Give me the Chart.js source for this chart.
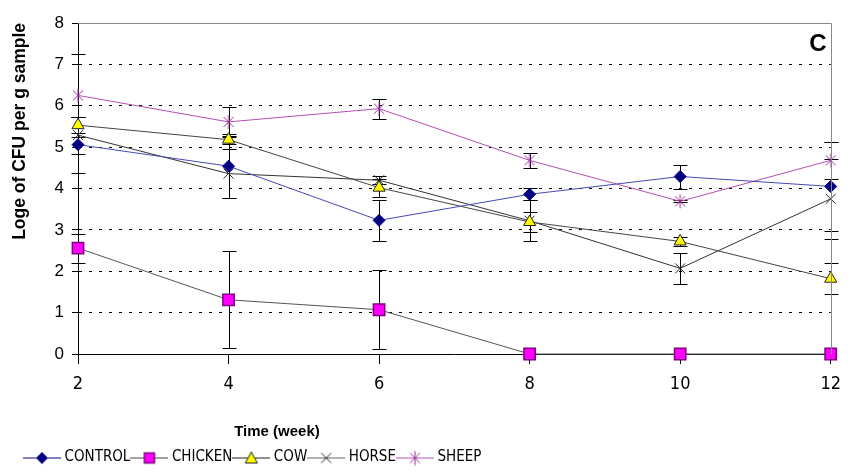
<!DOCTYPE html>
<html>
<head>
<meta charset="utf-8">
<script src="https://cdn.jsdelivr.net/npm/chart.js@4.4.1/dist/chart.umd.min.js"></script>
<style>
  html, body { margin: 0; padding: 0; background: #fff; }
  #wrap { width: 851px; height: 472px; position: relative; }
</style>
</head>
<body>
<div id="wrap"><canvas id="mainChart"></canvas></div>
<script>
// ---- data ----
const weeks = ['2', '4', '6', '8', '10', '12'];
const control    = [5.06, 4.54, 3.23, 3.86, 4.29, 4.05];
const controlErr = [0.68, 0.78, 0.50, 0.15, 0.29, 1.08];
const chicken    = [2.56, 1.31, 1.07, 0, 0, 0];
const chickenErr = [0.35, 1.17, 0.95, 0, 0, 0];
const cow        = [5.53, 5.18, 4.02, 3.19, 2.72, 1.82];
const cowErr     = [0.20, 0.10, 0.22, 0.24, 0.10, 0.38];
const horse      = [5.29, 4.36, 4.20, 3.22, 2.07, 3.75];
const horseErr   = [0.45, 0.60, 0.10, 0.50, 0.37, 0.97];
const sheep      = [6.25, 5.61, 5.93, 4.68, 3.69, 4.68];
const sheepErr   = [1.00, 0.36, 0.24, 0.18, 0.02, 0.45];
const yMin = 0, yMax = 8, yStep = 1;

const NARROW = '"DejaVu Sans Condensed", "Liberation Sans", Arial, sans-serif';
const SANS = '"Liberation Sans", Arial, sans-serif';

// ---- marker drawing for legend icons / sheep point ----
function markDiamond(g, x, y) {
  g.fillStyle = '#000080'; g.beginPath();
  g.moveTo(x - 6, y); g.lineTo(x, y - 6); g.lineTo(x + 6, y); g.lineTo(x, y + 6); g.closePath(); g.fill();
}
function markSquare(g, x, y) {
  g.fillStyle = '#ff00ff'; g.strokeStyle = '#800080'; g.lineWidth = 1.5;
  g.fillRect(x - 5, y - 5, 10, 10); g.strokeRect(x - 5, y - 5, 10, 10);
}
function markTriangle(g, x, y) {
  g.fillStyle = '#ffff00'; g.strokeStyle = '#222'; g.lineWidth = 1; g.beginPath();
  g.moveTo(x, y - 6); g.lineTo(x + 6, y + 5); g.lineTo(x - 6, y + 5); g.closePath(); g.fill(); g.stroke();
}
function markX(g, x, y) {
  g.strokeStyle = '#222'; g.lineWidth = 1; g.beginPath();
  g.moveTo(x - 5, y - 5); g.lineTo(x + 5, y + 5); g.moveTo(x + 5, y - 5); g.lineTo(x - 5, y + 5); g.stroke();
}
function markStar(g, x, y) {
  g.strokeStyle = '#993399'; g.lineWidth = 1; g.beginPath();
  g.moveTo(x, y - 7); g.lineTo(x, y + 7);
  g.moveTo(x - 5, y - 5); g.lineTo(x + 5, y + 5); g.moveTo(x + 5, y - 5); g.lineTo(x - 5, y + 5); g.stroke();
}

function makeIcon(lineColor, mark) {
  const c = document.createElement('canvas');
  c.width = 38; c.height = 16;
  const g = c.getContext('2d');
  g.strokeStyle = lineColor; g.lineWidth = 1;
  g.beginPath(); g.moveTo(0, 8.5); g.lineTo(38, 8.5); g.stroke();
  mark(g, 19, 8.5);
  return c;
}

function makeSheepPoint() {
  const c = document.createElement('canvas');
  c.width = 16; c.height = 16;
  markStar(c.getContext('2d'), 8, 8);
  return c;
}

const legendIcons = [
  makeIcon('#000080', markDiamond),
  makeIcon('#444', markSquare),
  makeIcon('#222', markTriangle),
  makeIcon('#666', markX),
  makeIcon('#b050b0', markStar)
];

const errors = [controlErr, chickenErr, cowErr, horseErr, sheepErr];

// ---- error bars + frame + labels ----
const extrasPlugin = {
  id: 'extras',
  afterLayout(chart) {
    chart.legend.left = 23;
    chart.legend.top += 3;
  },
  beforeDatasetsDraw(chart) {
    const ctx = chart.ctx;
    const y = chart.scales.y;
    ctx.save();
    ctx.strokeStyle = '#000';
    ctx.lineWidth = 1;
    chart.data.datasets.forEach((ds, di) => {
      const meta = chart.getDatasetMeta(di);
      const err = errors[di];
      meta.data.forEach((pt, i) => {
        const e = err[i];
        if (!e) return;
        const v = ds.data[i];
        const px = Math.round(pt.x) + 0.5;
        const top = Math.round(y.getPixelForValue(v + e)) + 0.5;
        const bot = Math.round(y.getPixelForValue(v - e)) + 0.5;
        ctx.beginPath();
        ctx.moveTo(px, top); ctx.lineTo(px, bot);
        ctx.moveTo(px - 7, top); ctx.lineTo(px + 7, top);
        ctx.moveTo(px - 7, bot); ctx.lineTo(px + 7, bot);
        ctx.stroke();
      });
    });
    ctx.restore();
  },
  afterDraw(chart) {
    const ctx = chart.ctx;
    const a = chart.chartArea;
    ctx.save();
    ctx.strokeStyle = '#888';
    ctx.lineWidth = 1;
    ctx.beginPath();
    ctx.moveTo(a.left, Math.round(a.top) + 0.5);
    ctx.lineTo(Math.round(a.right) + 0.5, Math.round(a.top) + 0.5);
    ctx.lineTo(Math.round(a.right) + 0.5, Math.round(a.bottom));
    ctx.stroke();
    ctx.fillStyle = '#000';
    ctx.textAlign = 'center';
    ctx.textBaseline = 'middle';
    ctx.font = 'bold 24px ' + SANS;
    ctx.fillText('C', 818, 44);
    ctx.font = 'bold 15px ' + SANS;
    ctx.fillText('Time (week)', 277, 432);
    ctx.restore();
  }
};

function lineSet(label, data, lineColor, extra) {
  return Object.assign({
    label,
    data,
    borderColor: lineColor,
    borderWidth: 1,
    tension: 0,
    fill: false,
    clip: false,
    pointHoverRadius: 7
  }, extra);
}

const ctx = document.getElementById('mainChart').getContext('2d');
const chart = new Chart(ctx, {
  type: 'line',
  data: {
    labels: weeks,
    datasets: [
      lineSet('CONTROL', control, '#4848b8', {
        pointStyle: 'rectRot', pointRadius: 6,
        pointBackgroundColor: '#000080', pointBorderColor: '#000080', pointBorderWidth: 1
      }),
      lineSet('CHICKEN', chicken, '#555', {
        pointStyle: 'rect', pointRadius: 8,
        pointBackgroundColor: '#ff00ff', pointBorderColor: '#800080', pointBorderWidth: 1.5
      }),
      lineSet('COW', cow, '#444', {
        pointStyle: 'triangle', pointRadius: 7,
        pointBackgroundColor: '#ffff00', pointBorderColor: '#222', pointBorderWidth: 1
      }),
      lineSet('HORSE', horse, '#333', {
        pointStyle: 'crossRot', pointRadius: 7,
        pointBorderColor: '#222', pointBorderWidth: 1
      }),
      lineSet('SHEEP', sheep, '#b050b0', {
        pointStyle: makeSheepPoint(), pointRadius: 7,
        pointBorderColor: '#993399'
      })
    ]
  },
  options: {
    responsive: true,
    maintainAspectRatio: false,
    animation: false,
    layout: { padding: { top: 23, right: 14, left: 0, bottom: 0 } },
    plugins: {
      tooltip: { enabled: false },
      legend: {
        position: 'bottom',
        align: 'start',
        labels: {
          usePointStyle: true,
          pointStyleWidth: 30,
          boxHeight: 16,
          padding: 4,
          color: '#000',
          font: { family: NARROW, size: 15 },
          generateLabels(chart) {
            return chart.data.datasets.map((ds, i) => ({
              text: ds.label,
              pointStyle: legendIcons[i],
              fillStyle: 'transparent',
              strokeStyle: 'transparent',
              lineWidth: 0,
              fontColor: '#000',
              hidden: false,
              datasetIndex: i
            }));
          }
        }
      }
    },
    scales: {
      x: {
        type: 'category',
        offset: false,
        afterFit(s) { s.height = 89; },
        grid: {
          drawOnChartArea: false,
          drawTicks: true,
          tickLength: 10,
          tickColor: '#000',
          tickWidth: 1
        },
        border: { color: '#000', width: 1 },
        ticks: {
          color: '#000',
          padding: 10,
          maxRotation: 0,
          font: { family: NARROW, size: 18 }
        }
      },
      y: {
        min: yMin,
        max: yMax,
        afterFit(s) { s.width = 78; },
        ticks: {
          stepSize: yStep,
          color: '#000',
          padding: 8,
          font: { family: SANS, size: 17 }
        },
        grid: {
          color: c => (c.tick && (c.tick.value === 0 || c.tick.value === 8)) ? 'rgba(0,0,0,0)' : '#000',
          lineWidth: 1,
          tickColor: '#000',
          tickLength: 6,
          tickWidth: 1
        },
        border: { color: '#000', width: 1, dash: [3, 7] },
        title: {
          display: true,
          text: 'Loge of CFU per g sample',
          align: 'end',
          color: '#000',
          padding: { top: 10, bottom: 0 },
          font: { family: SANS, size: 17.5, weight: 'bold' }
        }
      }
    }
  },
  plugins: [extrasPlugin]
});
</script>
</body>
</html>
